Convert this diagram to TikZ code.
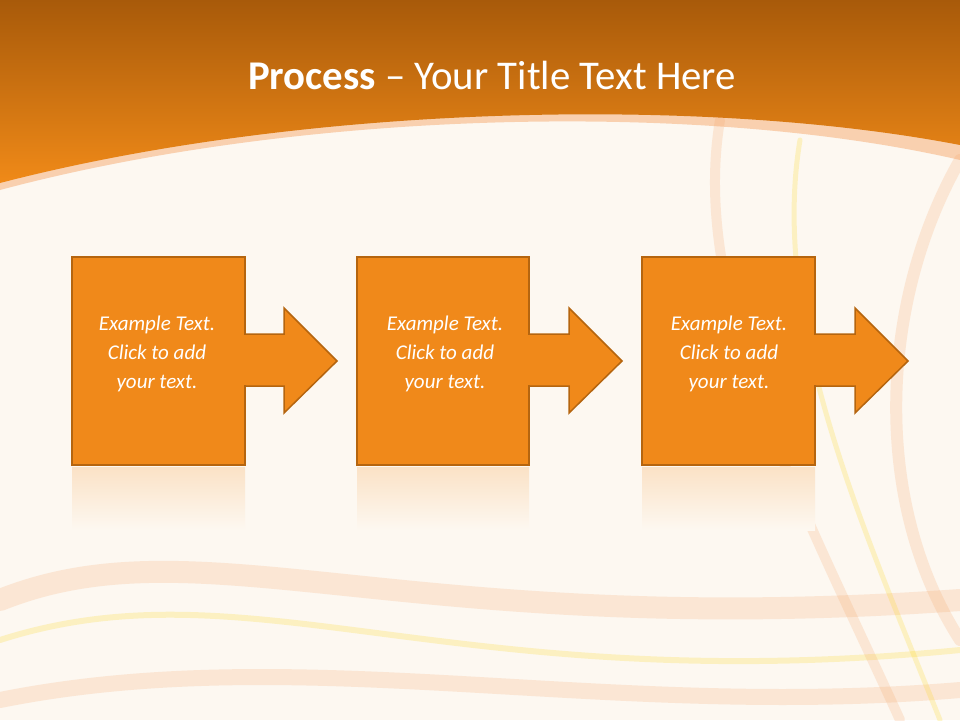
\documentclass[tikz,border=0pt]{standalone}
\usepackage{fontspec}
\setmainfont{Carlito}
\begin{document}
\begin{tikzpicture}[x=1pt,y=-1pt,
  stepbox/.style={fill=boxor,draw=boxbd,line width=1.5pt,line join=miter},
  lbl/.style={text=white,font=\itshape\fontsize{21}{29}\selectfont,align=center},
  swoosh/.style={draw=swo,line cap=round}]
\definecolor{boxor}{HTML}{F0891A}
\definecolor{boxbd}{HTML}{B5650F}
\definecolor{cream}{HTML}{FDF8F1}
\definecolor{hdtop}{HTML}{A85A0A}
\definecolor{hdbot}{HTML}{F08A18}
\definecolor{swo}{HTML}{F5A060}
\useasboundingbox (0,0) rectangle (960,720);
\fill[cream] (0,0) rectangle (960,720);
% decorative swooshes
\begin{scope}[opacity=0.2]
\draw[swoosh,line width=22pt] (0,600) .. controls (200,520) and (400,640) .. (960,600);
\draw[swoosh,line width=6pt,draw=yellow!70!orange] (0,640) .. controls (250,560) and (450,700) .. (960,650);
\draw[swoosh,line width=16pt] (0,700) .. controls (300,640) and (600,720) .. (960,690);
\draw[swoosh,line width=10pt] (720,120) .. controls (690,300) and (800,500) .. (900,720);
\draw[swoosh,line width=5pt,draw=yellow!70!orange] (800,140) .. controls (770,320) and (860,520) .. (940,720);
\draw[swoosh,line width=12pt] (960,160) .. controls (880,300) and (870,500) .. (960,640);
\end{scope}
% header
\fill[swo,opacity=0.45] (0,190) .. controls (300,110) and (700,100) .. (960,160) -- (960,140) .. controls (700,90) and (300,100) .. (0,180) -- cycle;
\shade[top color=hdtop,bottom color=hdbot] (0,0) -- (960,0) -- (960,145) .. controls (700,95) and (300,105) .. (0,183) -- cycle;
\node[text=white,font=\fontsize{34}{40}\selectfont,scale=1.2] (title) at (492,75) {\textbf{Process} – Your Title Text Here};
% process steps
\foreach \i/\x/\w/\ax/\hx/\tx in {1/72/173/337/284/157, 2/357/172/622/569/445, 3/642/173/908/855/729}{
  \draw[stepbox] (\x+\w,334) -- (\hx,334) -- (\hx,308) -- (\ax,361) -- (\hx,413) -- (\hx,386) -- (\x+\w,386);
  \draw[stepbox] (\x,257) rectangle (\x+\w,465);
  \fill[stepbox,draw=none] (\x+\w-1,335) rectangle (\x+\w+2,385);
  \shade[top color=boxor!20!cream,bottom color=cream] (\x,467) rectangle (\x+\w,530);
  \node[lbl] (t\i) at (\tx,354) {Example Text.\\Click to add\\your text.};
}
\end{tikzpicture}
\end{document}
